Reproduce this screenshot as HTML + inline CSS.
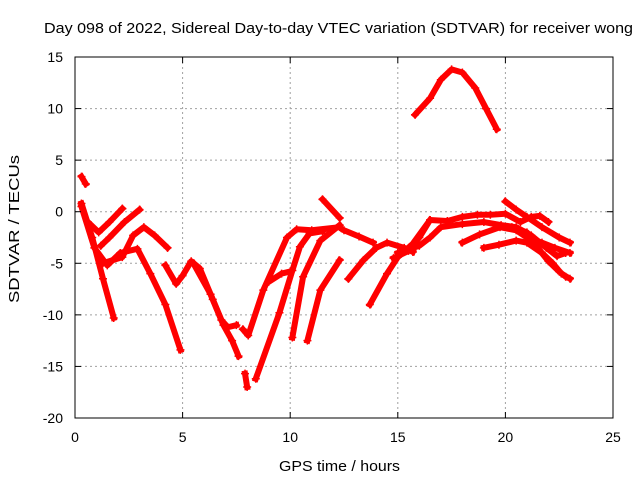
<!DOCTYPE html>
<html><head><meta charset="utf-8"><style>
body{margin:0;background:#fff;}
svg{display:block;font-family:"Liberation Sans",sans-serif;}
</style></head><body>
<svg id="chart" width="640" height="480" viewBox="0 0 640 480">
<rect width="640" height="480" fill="#fff"/>
<text x="338.5" y="33" font-size="15" text-anchor="middle" textLength="589" lengthAdjust="spacingAndGlyphs">Day 098 of 2022, Sidereal Day-to-day VTEC variation (SDTVAR) for receiver wong</text>
<text x="339.5" y="471" font-size="15" text-anchor="middle" textLength="121" lengthAdjust="spacingAndGlyphs">GPS time / hours</text>
<text transform="translate(19,229) rotate(-90)" font-size="15" text-anchor="middle" textLength="148" lengthAdjust="spacingAndGlyphs">SDTVAR / TECUs</text>
<g id="grid"></g><g id="series"></g><g id="axes"></g>
</svg>
<script>
const xTicks=[0,5,10,15,20,25];
const yTicks=[-20,-15,-10,-5,0,5,10,15];
const trackA=[[0.3,3.4],[0.5,2.7]];
const trackB=[[0.3,0.8],[0.8,-2.5],[1.3,-6.5],[1.8,-10.3]];
const trackC=[[0.3,0.5],[0.9,-3.5],[1.5,-5.2],[2.1,-4.0],[2.9,-3.6],[3.5,-6.0],[4.2,-9.0],[4.9,-13.4]];
const trackD=[[0.6,-1.0],[1.1,-2.0],[1.6,-1.0],[2.2,0.3]];
const trackE=[[1.2,-3.3],[1.6,-2.5],[2.3,-1.0],[3.0,0.2]];
const trackF=[[1.3,-5.0],[2.2,-4.4],[2.7,-2.3],[3.2,-1.5],[3.7,-2.3],[4.3,-3.5]];
const trackG=[[4.2,-5.2],[4.7,-7.0],[5.0,-6.2],[5.4,-4.8],[5.8,-5.5],[6.4,-8.5],[6.9,-11.0],[7.3,-12.5],[7.6,-14.0]];
const trackH=[[5.5,-5.0],[6.3,-8.0],[6.8,-10.5],[7.1,-11.2],[7.5,-11.0]];
const trackI=[[7.9,-15.7],[8.0,-17.0]];
const trackJ=[[7.8,-11.4],[8.05,-12.0],[8.75,-7.6],[9.85,-2.5],[10.3,-1.7],[11.0,-1.8],[12.3,-1.5]];
const trackK=[[8.4,-16.2],[9.5,-9.8],[10.1,-5.7],[10.45,-3.4],[10.9,-2.1],[11.5,-1.9]];
const trackL=[[10.1,-12.2],[10.6,-6.3],[11.4,-2.8],[12.3,-1.3]];
const trackM=[[10.8,-12.5],[11.4,-7.6],[12.3,-4.7]];
const trackN=[[9.0,-6.8],[9.6,-6.0],[10.0,-5.8]];
const trackO=[[11.5,1.2],[12.3,-0.6]];
const trackP=[[12.5,-1.8],[13.2,-2.4],[13.85,-3.0]];
const trackQ=[[12.7,-6.5],[13.4,-4.7],[14.0,-3.5],[14.5,-3.0],[15.3,-3.5],[15.7,-3.9]];
const trackR=[[13.7,-9.0],[14.5,-6.0],[15.0,-4.4],[15.7,-3.1],[16.5,-0.8]];
const trackS=[[15.8,9.4],[16.5,11.0],[17.0,12.8],[17.5,13.8],[18.0,13.5],[18.6,12.0],[19.1,10.0],[19.6,8.0]];
const trackT=[[14.8,-4.5],[15.5,-3.8],[16.0,-2.5],[16.5,-0.8],[17.3,-0.9],[18.0,-0.5],[18.7,-0.3],[19.3,-0.3],[20.0,-0.2],[20.7,-1.0],[21.2,-0.5],[21.6,-0.4],[22.0,-1.0]];
const trackU=[[15.0,-4.0],[16.0,-3.3],[16.5,-2.5],[17.0,-1.5],[18.0,-1.2],[19.0,-1.0],[19.8,-1.3],[20.5,-1.5],[21.2,-2.3],[21.9,-3.5],[22.4,-4.3],[22.8,-4.0]];
const trackV=[[20.0,1.0],[20.5,0.2],[21.0,-0.5],[21.7,-1.5],[22.5,-2.5],[23.0,-3.0]];
const trackW=[[18.0,-3.0],[18.8,-2.2],[19.75,-1.5],[20.5,-1.8],[21.0,-2.5],[21.7,-3.0],[22.3,-3.5],[23.0,-4.0]];
const trackX=[[19.0,-3.5],[19.7,-3.2],[20.5,-2.8],[21.0,-3.0],[21.7,-4.0],[22.2,-5.0],[22.6,-6.0],[23.0,-6.5]];
const trackY=[[20.3,-1.5],[21.0,-2.0],[21.5,-3.5],[22.0,-4.8],[22.5,-5.8],[22.8,-6.3]];
const tracks=[trackA,trackB,trackC,trackD,trackE,trackF,trackG,trackH,trackI,trackJ,trackK,trackL,trackM,trackN,trackO,trackP,trackQ,trackR,trackS,trackT,trackU,trackV,trackW,trackX,trackY];

const L=75,R=613,T=57,B=418,xMin=0,xMax=25,yMin=-20,yMax=15;
const sx=v=>L+(v-xMin)/(xMax-xMin)*(R-L);
const sy=v=>B-(v-yMin)/(yMax-yMin)*(B-T);
const NS="http://www.w3.org/2000/svg";
function mk(tag,attrs,parent){const e=document.createElementNS(NS,tag);for(const k in attrs)e.setAttribute(k,attrs[k]);parent.appendChild(e);return e;}
const grid=document.getElementById('grid'),axes=document.getElementById('axes'),series=document.getElementById('series');
xTicks.forEach(t=>{
  const x=sx(t);
  if(t>xMin&&t<xMax){const g=mk('line',{x1:x,x2:x,y1:T,y2:B,stroke:'#a0a0a0','stroke-dasharray':'2,3'},grid);
  
  }
  mk('line',{x1:x,x2:x,y1:B,y2:B-6,stroke:'#000'},axes);
  mk('line',{x1:x,x2:x,y1:T,y2:T+6,stroke:'#000'},axes);
  const lb=mk('text',{x:x,y:B+24,'font-size':14,'text-anchor':'middle'},axes);
  lb.textContent=t;
  
  
});
yTicks.forEach(t=>{
  const y=sy(t);
  if(t>yMin&&t<yMax){const g=mk('line',{x1:L,x2:R,y1:y,y2:y,stroke:'#a0a0a0','stroke-dasharray':'2,3'},grid);
  
  }
  mk('line',{x1:L,x2:L+6,y1:y,y2:y,stroke:'#000'},axes);
  mk('line',{x1:R,x2:R-6,y1:y,y2:y,stroke:'#000'},axes);
  const lb=mk('text',{x:L-12,y:y+5,'font-size':14,'text-anchor':'end'},axes);
  lb.textContent=t;
  
  
});
const frame=mk('rect',{x:L,y:T,width:R-L,height:B-T,fill:'none',stroke:'#000'},axes);


tracks.forEach(tr=>{
  const pts=tr.map(p=>sx(p[0])+','+sy(p[1])).join(' ');
  const pl=mk('polyline',{points:pts,fill:'none',stroke:'#ff0000','stroke-width':6,'stroke-linejoin':'round','stroke-linecap':'square'},series);
  
  
  tr.forEach(p=>{
    const m=mk('path',{d:`M${sx(p[0])-4},${sy(p[1])}h8M${sx(p[0])},${sy(p[1])-4}v8`,stroke:'#ff0000','stroke-width':1.5},series);
    
    
  });
});
</script>
</body></html>
